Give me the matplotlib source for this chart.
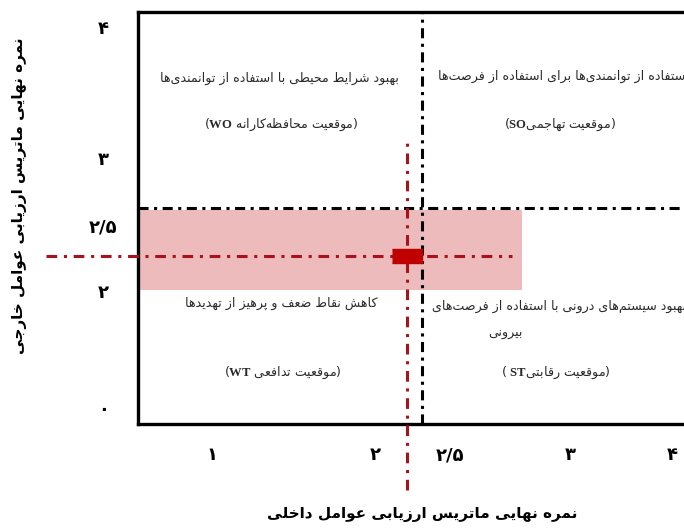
import numpy as np
import matplotlib
matplotlib.use('Agg')
import matplotlib.pyplot as plt

plt.rcParams['font.family'] = ['DejaVu Sans']
plt.rcParams['mathtext.fontset'] = 'custom'
plt.rcParams['mathtext.bf'] = 'Liberation Serif:bold'

# شکل‌های حروف (منفرد، پایانی، آغازی، میانی) برای چسباندن حروف فارسی
FORMS = {
    'ا': (0xFE8D, 0xFE8E), 'ب': (0xFE8F, 0xFE90, 0xFE91, 0xFE92),
    'پ': (0xFB56, 0xFB57, 0xFB58, 0xFB59), 'ت': (0xFE95, 0xFE96, 0xFE97, 0xFE98),
    'ج': (0xFE9D, 0xFE9E, 0xFE9F, 0xFEA0), 'ح': (0xFEA1, 0xFEA2, 0xFEA3, 0xFEA4),
    'خ': (0xFEA5, 0xFEA6, 0xFEA7, 0xFEA8), 'د': (0xFEA9, 0xFEAA),
    'ر': (0xFEAD, 0xFEAE), 'ز': (0xFEAF, 0xFEB0),
    'س': (0xFEB1, 0xFEB2, 0xFEB3, 0xFEB4), 'ش': (0xFEB5, 0xFEB6, 0xFEB7, 0xFEB8),
    'ص': (0xFEB9, 0xFEBA, 0xFEBB, 0xFEBC), 'ض': (0xFEBD, 0xFEBE, 0xFEBF, 0xFEC0),
    'ط': (0xFEC1, 0xFEC2, 0xFEC3, 0xFEC4), 'ظ': (0xFEC5, 0xFEC6, 0xFEC7, 0xFEC8),
    'ع': (0xFEC9, 0xFECA, 0xFECB, 0xFECC), 'ف': (0xFED1, 0xFED2, 0xFED3, 0xFED4),
    'ق': (0xFED5, 0xFED6, 0xFED7, 0xFED8), 'ک': (0xFB8E, 0xFB8F, 0xFB90, 0xFB91),
    'ل': (0xFEDD, 0xFEDE, 0xFEDF, 0xFEE0), 'م': (0xFEE1, 0xFEE2, 0xFEE3, 0xFEE4),
    'ن': (0xFEE5, 0xFEE6, 0xFEE7, 0xFEE8), 'ه': (0xFEE9, 0xFEEA, 0xFEEB, 0xFEEC),
    'و': (0xFEED, 0xFEEE), 'ی': (0xFBFC, 0xFBFD, 0xFBFE, 0xFBFF),
}


def joins_next(c):
    return c in FORMS and len(FORMS[c]) == 4


def fa(text):
    out = []
    for i, c in enumerate(text):
        if c not in FORMS:
            if c != '\u200c':
                out.append(c)
            continue
        prev = text[i - 1] if i > 0 else ''
        nxt = text[i + 1] if i + 1 < len(text) else ''
        a = joins_next(prev)
        b = joins_next(c) and nxt in FORMS
        f = FORMS[c]
        if a and b:
            g = f[3]
        elif a:
            g = f[1]
        elif b:
            g = f[2]
        else:
            g = f[0]
        out.append(chr(g))
    return ''.join(reversed(out))


# امتیاز نهایی ماتریس‌ها
ife_score = 2.21
efe_score = 2.27

x_ticks = [1, 2, 2.5, 3, 4]
x_tick_labels = ['۱', '۲', '۲/۵', '۳', '۴']
y_ticks = [0, 2, 2.5, 3, 4]
y_tick_labels = ['۰', '۲', '۲/۵', '۳', '۴']

# خطوط جداکننده نواحی
x_divider = 2.31
y_divider = 2.63

# ناحیه رنگی
band_x_end = 2.80
band_y = [2.01, 2.62]

# طول خطوط قرمز
red_v_span = [-1.40, 3.14]
red_h_span = [-0.02, 2.76]

xlabel = 'نمره نهایی ماتریس ارزیابی عوامل داخلی'
ylabel = 'نمره نهایی ماتریس ارزیابی عوامل خارجی'

# مقیاس محورها (غیرخطی مثل شکل اصلی)
x_anchor_score = [-1, 0, 1, 2, 2.5, 3, 4, 5]
x_anchor_pos = [-114, 49, 212, 375, 450, 570, 672, 774]
y_anchor_score = [-3, -1, 0, 2, 2.5, 3, 4, 5]
y_anchor_pos = [-583.5, -466.5, -408, -291, -226, -158, -27, 104]


def fwd_x(v):
    return np.interp(v, x_anchor_score, x_anchor_pos)


def inv_x(p):
    return np.interp(p, x_anchor_pos, x_anchor_score)


def fwd_y(v):
    return np.interp(v, y_anchor_score, y_anchor_pos)


def inv_y(p):
    return np.interp(p, y_anchor_pos, y_anchor_score)


W, H = 684, 529
fig = plt.figure(figsize=(W / 100, H / 100), dpi=100)
ax = fig.add_axes([138 / W, 1 - 424 / H, (700 - 138) / W, (424 - 12) / H])
ax.set_xscale('function', functions=(fwd_x, inv_x))
ax.set_yscale('function', functions=(fwd_y, inv_y))
ax.set_xlim(inv_x(138), inv_x(700))
ax.set_ylim(inv_y(-424), inv_y(-12))

red = '#C00000'
line_red = '#A8121C'

ax.fill_between([ax.get_xlim()[0], band_x_end], band_y[0], band_y[1],
                color='#EDBBBB', lw=0, zorder=0)

ax.axvline(x_divider, color='black', lw=2.2, ls=(0, (3.3, 1.8, 1, 1.8)), zorder=2)
ax.axhline(y_divider, color='black', lw=2.2, ls=(0, (3.3, 1.8, 1, 1.8)), zorder=2)

ax.plot([ife_score, ife_score], red_v_span, color=line_red, lw=2.2,
        ls=(0, (3.5, 2.2, 1, 2.2)), clip_on=False, zorder=3)
ax.plot(red_h_span, [efe_score, efe_score], color=line_red, lw=2.2,
        ls=(0, (3.5, 2.2, 1, 2.2)), clip_on=False, zorder=3)

rect = [(-1, -0.47), (1, -0.47), (1, 0.47), (-1, 0.47)]
ax.plot(ife_score, efe_score, marker=rect, ms=21.6, color=red, zorder=4)

ax.set_xticks(x_ticks, x_tick_labels, fontweight='bold', fontsize=13)
ax.set_yticks(y_ticks, y_tick_labels, fontweight='bold', fontsize=13)
ax.minorticks_off()
ax.tick_params(axis='x', length=0, pad=16)
ax.tick_params(axis='y', length=0, pad=25)
for lab in ax.get_yticklabels():
    lab.set_ha('center')

for s in ['left', 'bottom', 'top']:
    ax.spines[s].set_linewidth(2.4)
ax.spines['right'].set_visible(False)


def put(x, y, s, **kw):
    kw.setdefault('ha', 'center')
    kw.setdefault('va', 'center')
    kw.setdefault('fontsize', 9.1)
    kw.setdefault('color', '#2a2a2a')
    fig.text(x / W, 1 - y / H, s, **kw)


# متن نواحی
put(279, 78, fa('بهبود شرایط محیطی با استفاده از توانمندی‌ها'))
put(281, 125, '($\\mathbf{WO}$ ' + fa('موقعیت محافظه‌کارانه') + ')')
put(438, 76, fa('استفاده از توانمندی‌ها برای استفاده از فرصت‌ها'), ha='left')
put(560, 125, '($\\mathbf{SO}$' + fa('موقعیت تهاجمی') + ')')
put(281, 303, fa('کاهش نقاط ضعف و پرهیز از تهدیدها'))
put(283, 373, '($\\mathbf{WT}$ ' + fa('موقعیت تدافعی') + ')')
put(432, 306, fa('بهبود سیستم‌های درونی با استفاده از فرصت‌های'), ha='left')
put(505, 333, fa('بیرونی'))
put(556, 373, '( $\\mathbf{ST}$' + fa('موقعیت رقابتی') + ')')

put(422, 514, fa(xlabel), fontsize=11, fontweight='bold', color='black')
put(20, 196, fa(ylabel), fontsize=11, fontweight='bold', color='black', rotation=90)

fig.savefig('out.png', dpi=100)
